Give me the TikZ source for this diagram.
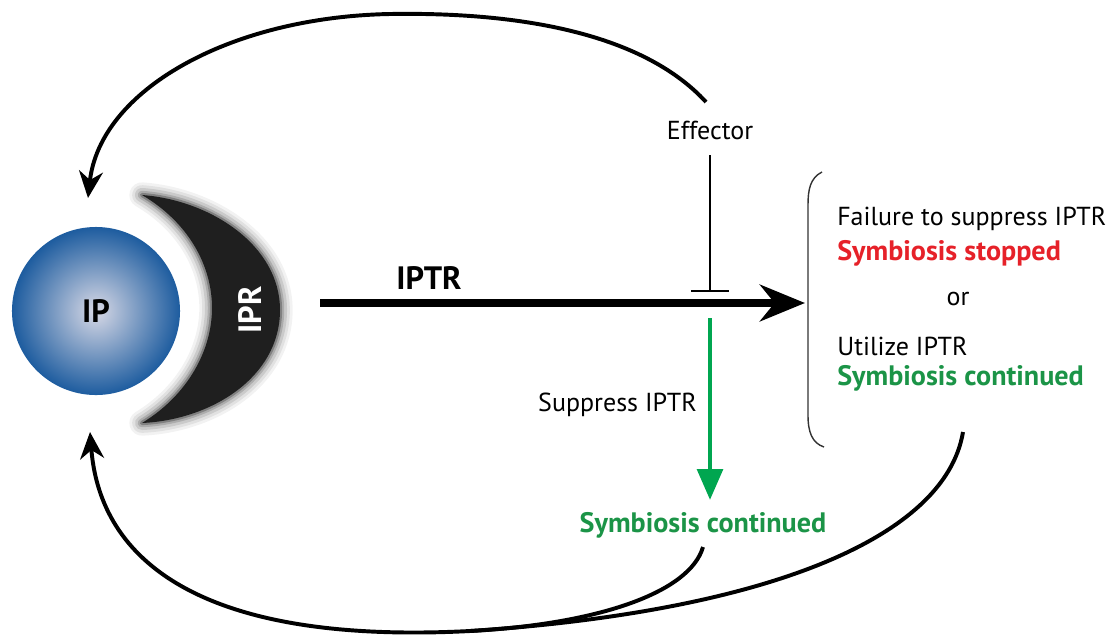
\documentclass[tikz,border=0pt]{standalone}
\usepackage{fontspec}
\setmainfont{PT Sans}
\usetikzlibrary{arrows.meta}
\definecolor{ipblue}{HTML}{1D5C9F}
\definecolor{ipcore}{HTML}{D8D9E6}
\definecolor{symred}{HTML}{E62129}
\definecolor{symgreen}{HTML}{1B9447}
\definecolor{argreen}{HTML}{00A650}
\begin{document}
\begin{tikzpicture}[x=0.025cm,y=-0.025cm,
    txt/.style={font=\fontsize{18.5}{22}\selectfont, inner sep=0pt},
    btxt/.style={font=\fontsize{20}{24}\selectfont\bfseries, inner sep=0pt},
    bigtxt/.style={font=\fontsize{23}{27}\selectfont\bfseries, inner sep=0pt},
    loop/.style={line width=2.8pt, -{Stealth[length=19pt,width=17pt]}}]
    \useasboundingbox (0,0) rectangle (1111,634);
    % IPR crescent, soft edge
    \foreach \w/\o in {18/0.05, 14/0.07, 10/0.1, 6/0.15, 3/0.25}
        \draw[line width=\w pt, black, opacity=\o, line join=round] (142,195) .. controls (210,200) and (280,245) .. (280,310) .. controls (280,378) and (210,420) .. (142,423) .. controls (188,395) and (212,350) .. (212,308) .. controls (212,265) and (188,222) .. (142,195) -- cycle;
    \fill[black!88] (142,195) .. controls (210,200) and (280,245) .. (280,310) .. controls (280,378) and (210,420) .. (142,423) .. controls (188,395) and (212,350) .. (212,308) .. controls (212,265) and (188,222) .. (142,195) -- cycle;
    \node[bigtxt, white, rotate=90] (ipr) at (250,310) {IPR};
    \node[circle, minimum size=4.2cm, inner color=ipcore, outer color=ipblue, bigtxt] (ip) at (96,311) {IP};
    % main signal
    \coordinate (iprout) at (320,303);
    \coordinate (brk) at (805,303);
    \draw[line width=5.5pt, -{Stealth[length=32pt,width=26pt]}] (iprout) -- (brk);
    \node[bigtxt, anchor=base] (iptr) at (429,289) {IPTR};
    % effector blocks
    \node[txt, anchor=base] (eff) at (710,139) {Effector};
    \coordinate (block) at (710,292);
    \draw[line width=1.4pt, -{Bar[width=27pt]}] (710,155) -- (block);
    \coordinate (gstart) at (710,318);
    \node[txt, anchor=base east] (sup) at (697,411) {Suppress IPTR};
    \node[btxt, symgreen, anchor=base] (cont) at (703,532) {Symbiosis continued};
    \draw[argreen, line width=3.5pt, -{Triangle[length=22pt,width=18pt]}] (gstart) -- (gstart |- 0,500);
    % outcomes
    \draw[line width=1pt, black!80] (822,172) .. controls (810,178) and (808,190) .. (808,205) -- (808,415) .. controls (808,432) and (812,443) .. (824,447);
    \node[txt, anchor=base west] (fail) at (837,225) {Failure to suppress IPTR};
    \node[btxt, symred, anchor=base west] (stop) at (837,260) {Symbiosis stopped};
    \node[txt, anchor=base] (or) at (958,305) {or};
    \node[txt, anchor=base west] (util) at (837,355) {Utilize IPTR};
    \node[btxt, symgreen, anchor=base west] (cont2) at (837,385) {Symbiosis continued};
    % feedback loops
    \coordinate (effout) at (706,102);
    \coordinate (topin) at (88,198);
    \draw[loop] (effout) .. controls (640,30) and (510,12) .. (390,14) .. controls (230,17) and (100,90) .. (topin);
    \coordinate (back) at (963,432);
    \coordinate (merge) at (470,631);
    \coordinate (botin) at (90,432);
    \draw[loop] (back) .. controls (945,540) and (760,612) .. (merge) .. controls (200,645) and (100,560) .. (botin);
    \draw[line width=2.8pt] (703,547) .. controls (690,592) and (600,624) .. (merge);
\end{tikzpicture}
\end{document}
